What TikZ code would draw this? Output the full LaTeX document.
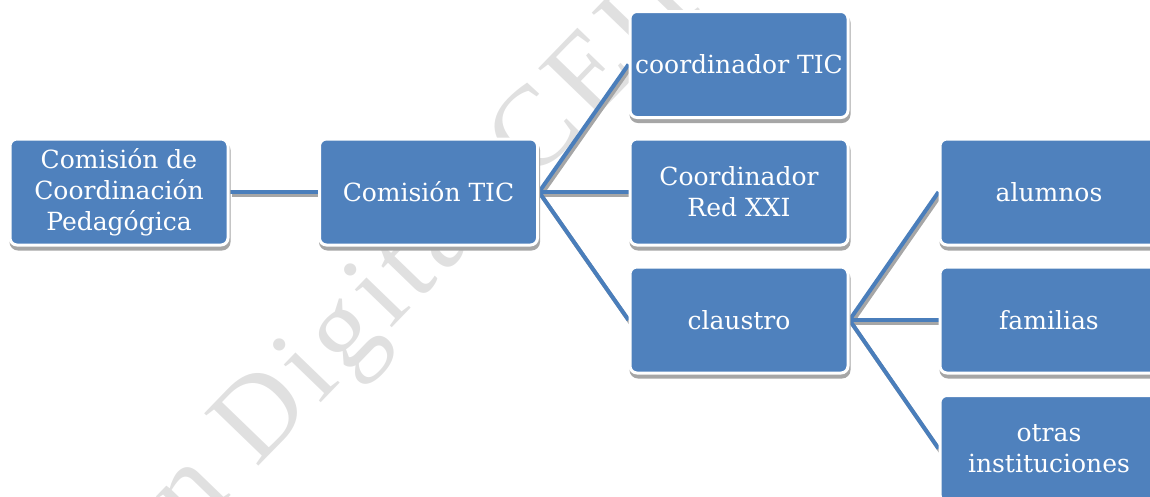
\documentclass[tikz,border=0pt]{standalone}
\usepackage{fontspec}
\setmainfont{DejaVu Serif}
\newfontfamily\wmfont{Liberation Serif}[LetterSpace=6]
\usetikzlibrary{shadows}
\definecolor{boxblue}{HTML}{4F81BD}
\definecolor{lineblue}{HTML}{4A7EBB}
\definecolor{shadowgray}{HTML}{A6A6A6}
\definecolor{wmgray}{HTML}{E0E0E0}
\pgfdeclarelayer{background}
\pgfsetlayers{background,main}
\begin{document}
\begin{tikzpicture}[x=1pt,y=-1pt,
  orgbox/.style={rectangle, rounded corners=7pt, fill=boxblue, draw=white,
    line width=3pt, minimum width=218pt, minimum height=106pt, inner sep=0pt,
    text=white, align=center, font=\fontsize{25}{31}\selectfont,
    drop shadow={shadow xshift=1pt, shadow yshift=-4pt, fill=shadowgray,
      draw=shadowgray, line width=3pt, opacity=1}},
  link/.style={draw=lineblue, line width=4pt},
  linkshadow/.style={draw=shadowgray, line width=4pt,
    transform canvas={xshift=2pt, yshift=-3pt}},
  watermark/.style={text=wmgray, font=\wmfont\fontsize{115}{115}\selectfont,
    rotate=46, anchor=base west, inner sep=0pt}]
\useasboundingbox (0,0) rectangle (1150,496);
\clip (0,0) rectangle (1150,496);

\node[orgbox] (b1) at (119,192) {Comisión de\\Coordinación\\Pedagógica};
\node[orgbox] (b2) at (428.5,192) {Comisión TIC};
\node[orgbox] (c1) at (739,64.5) {coordinador TIC};
\node[orgbox] (c2) at (739,192) {Coordinador\\Red XXI};
\node[orgbox] (c3) at (739,320) {claustro};
\node[orgbox] (d1) at (1049,192) {alumnos};
\node[orgbox] (d2) at (1049,320) {familias};
\node[orgbox] (d3) at (1049,448.5) {otras\\instituciones};

\begin{pgfonlayer}{background}
  \node[watermark] (wm) at (192,536) {n Digital CEIP};
  \draw[linkshadow] (b1.east) -- (b2.west);
  \draw[linkshadow] (b2.east) -- (c1.west);
  \draw[linkshadow] (b2.east) -- (c2.west);
  \draw[linkshadow] (b2.east) -- (c3.west);
  \draw[linkshadow] (c3.east) -- (d1.west);
  \draw[linkshadow] (c3.east) -- (d2.west);
  \draw[linkshadow] (c3.east) -- (d3.west);
  \draw[link] (b1.east) -- (b2.west);
  \draw[link] (b2.east) -- (c1.west);
  \draw[link] (b2.east) -- (c2.west);
  \draw[link] (b2.east) -- (c3.west);
  \draw[link] (c3.east) -- (d1.west);
  \draw[link] (c3.east) -- (d2.west);
  \draw[link] (c3.east) -- (d3.west);
\end{pgfonlayer}
\end{tikzpicture}
\end{document}
